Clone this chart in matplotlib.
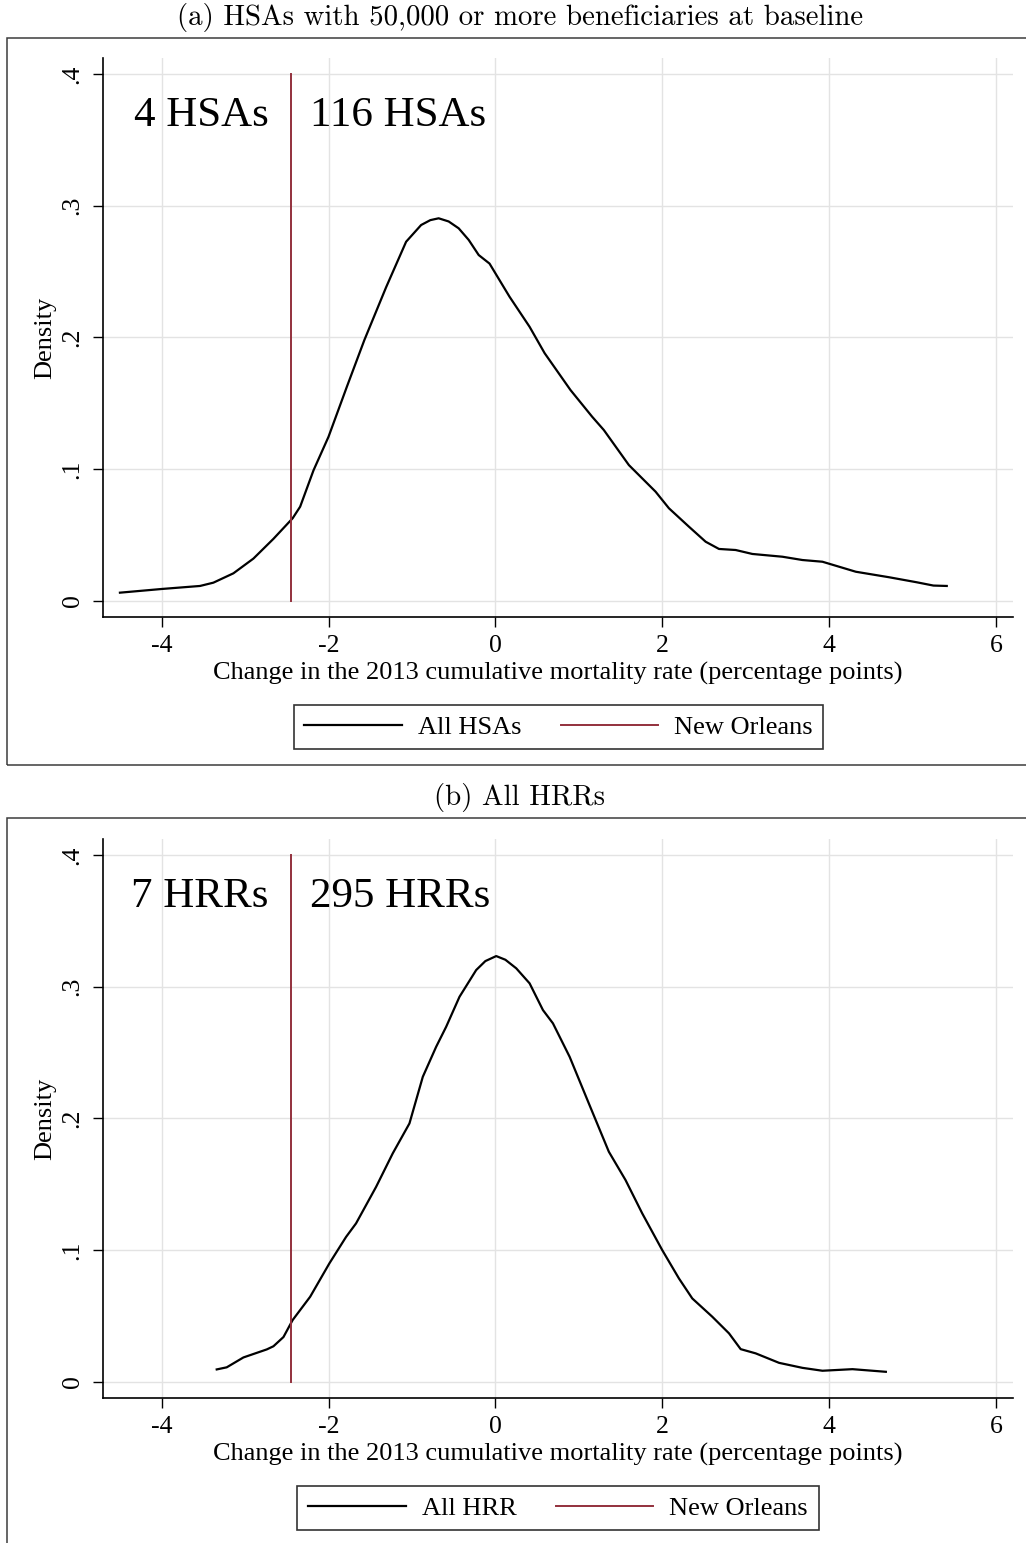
import matplotlib
matplotlib.use('Agg')
import matplotlib.pyplot as plt
from matplotlib.patches import Rectangle

# panel (a): HSAs with 50,000+ beneficiaries
hsa_x = [-4.50, -4.00, -3.54, -3.38, -3.14, -2.90, -2.66, -2.43, -2.34, -2.18, -2.00,
         -1.78, -1.57, -1.31, -1.07, -0.89, -0.78, -0.68, -0.56, -0.44, -0.32, -0.20, -0.07,
         0.17, 0.41, 0.59, 0.90, 1.16, 1.30, 1.60, 1.92, 2.08, 2.32, 2.52, 2.68, 2.88, 3.08,
         3.44, 3.68, 3.92, 4.32, 4.72, 5.05, 5.25, 5.41]
hsa_d = [0.0061, 0.0089, 0.0112, 0.0137, 0.0208, 0.0320, 0.0470, 0.0626, 0.0714, 0.0990, 0.1245,
         0.1625, 0.1980, 0.2380, 0.2726, 0.2853, 0.2890, 0.2904, 0.2880, 0.2828, 0.2740, 0.2625, 0.2560,
         0.2308, 0.2080, 0.1880, 0.1600, 0.1397, 0.1296, 0.1030, 0.0828, 0.0702, 0.0562, 0.0448, 0.0393,
         0.0385, 0.0355, 0.0334, 0.0309, 0.0296, 0.0220, 0.0178, 0.0140, 0.0115, 0.0112]

# panel (b): all HRRs
hrr_x = [-3.34, -3.22, -3.02, -2.74, -2.66, -2.54, -2.43, -2.22, -1.99, -1.79, -1.67,
         -1.43, -1.23, -1.03, -0.87, -0.71, -0.59, -0.43, -0.23, -0.12, 0.01, 0.12,
         0.25, 0.41, 0.57, 0.69, 0.89, 1.12, 1.36, 1.56, 1.76, 2.00, 2.20, 2.36,
         2.60, 2.80, 2.94, 3.12, 3.40, 3.68, 3.92, 4.28, 4.68]
hrr_d = [0.0094, 0.0110, 0.0185, 0.0246, 0.0270, 0.0340, 0.0469, 0.0646, 0.0899, 0.1100, 0.1203,
         0.1480, 0.1735, 0.1962, 0.2316, 0.2544, 0.2696, 0.2924, 0.3127, 0.3195, 0.3233, 0.3205,
         0.3140, 0.3026, 0.2823, 0.2722, 0.2468, 0.2114, 0.1747, 0.1532, 0.1279, 0.1000, 0.0785, 0.0633,
         0.0494, 0.0368, 0.0248, 0.0216, 0.0144, 0.0106, 0.0084, 0.0096, 0.0076]

new_orleans = -2.45
xticks = [-4, -2, 0, 2, 4, 6]
yticks = [0, 0.1, 0.2, 0.3, 0.4]
ytick_labels = ['0', '.1', '.2', '.3', '.4']

panels = [
    dict(title='(a) HSAs with 50,000 or more beneficiaries at baseline',
         x=hsa_x, d=hsa_d, left_txt='4 HSAs', right_txt='116 HSAs', lab='All HSAs',
         ax_top=58.3, frame=(38, 765), title_y=18, leg=(558.5, 727)),
    dict(title='(b) All HRRs',
         x=hrr_x, d=hrr_d, left_txt='7 HRRs', right_txt='295 HRRs', lab='All HRR',
         ax_top=839.4, frame=(818, 1560), title_y=797, leg=(558, 1508)),
]

W, H = 1026, 1543
fig = plt.figure(figsize=(W / 100, H / 100), dpi=100)
serif = 'Liberation Serif'
red = '#93303c'
fs = 18.5

for p in panels:
    top = p['ax_top']
    bot = top + 559.0
    ax = fig.add_axes([103 / W, 1 - bot / H, 910 / W, 559.0 / H])

    line1, = ax.plot(p['x'], p['d'], color='black', lw=1.6, label=p['lab'],
                     solid_joinstyle='round')
    line2, = ax.plot([new_orleans, new_orleans], [0, 0.4], color=red, lw=1.4, label='New Orleans')

    ax.text(-2.72, 0.368, p['left_txt'], ha='right', va='center', fontsize=31, family=serif)
    ax.text(-2.22, 0.368, p['right_txt'], ha='left', va='center', fontsize=31, family=serif)

    ax.set_xlim(-4.703, 6.204)
    ax.set_ylim(-0.0126, 0.4119)
    ax.set_xticks(xticks)
    ax.set_xticklabels([str(t) for t in xticks], family=serif, fontsize=fs)
    ax.set_yticks(yticks)
    ax.set_yticklabels(ytick_labels, family=serif, fontsize=fs, rotation=90, va='center')
    ax.grid(True, color='#e3e3e3', lw=1)
    ax.set_axisbelow(True)
    for s in ['top', 'right']:
        ax.spines[s].set_visible(False)
    for s in ['left', 'bottom']:
        ax.spines[s].set_linewidth(1.2)
    ax.tick_params(length=7, width=1)
    ax.tick_params(axis='x', pad=5.5)
    ax.tick_params(axis='y', pad=7)
    ax.set_xlabel('Change in the 2013 cumulative mortality rate (percentage points)',
                  family=serif, fontsize=fs + 0.5, labelpad=4)
    ax.set_ylabel('Density', family=serif, fontsize=fs + 0.5, labelpad=4)

    fig.legend(handles=[line1, line2], loc='center', ncol=2,
               bbox_to_anchor=(p['leg'][0] / W, 1 - p['leg'][1] / H),
               prop={'family': serif, 'size': fs + 0.5}, frameon=True, fancybox=False,
               edgecolor='black', handlelength=3.7, handletextpad=0.6, columnspacing=1.5,
               borderpad=0.4).get_frame().set_linewidth(1.2)

    f0, f1 = p['frame']
    fig.patches.append(Rectangle((7 / W, 1 - f1 / H), 1.2, (f1 - f0) / H,
                                 transform=fig.transFigure, fill=False,
                                 edgecolor='#3c3c3c', lw=1.1))
    fig.text(520 / W, 1 - p['title_y'] / H, p['title'], ha='center', va='center',
             fontsize=20.8, family='cmr10')

fig.savefig('out.png', dpi=100)
